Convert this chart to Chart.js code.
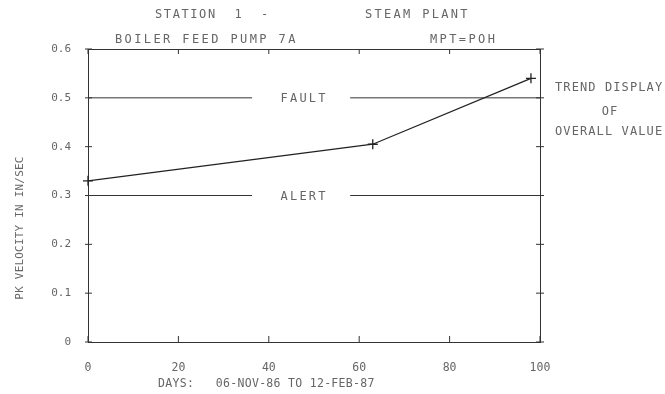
<!DOCTYPE html>
<html>
<head>
<meta charset="utf-8">
<script src="https://cdn.jsdelivr.net/npm/chart.js@4"></script>
<style>
  html, body { margin: 0; padding: 0; background: #fff; }
  #wrap { width: 665px; height: 394px; position: relative; }
</style>
</head>
<body>
<div id="wrap"><canvas id="trend"></canvas></div>
<script>
// values
const days = [0, 63, 98];
const velocity = [0.33, 0.405, 0.54];
const faultLevel = 0.5;
const alertLevel = 0.3;
const labelGap = [36.3, 58];   // where the limit lines break for their labels
const yTicks = [0, 0.1, 0.2, 0.3, 0.4, 0.5, 0.6];
const xTicks = [0, 20, 40, 60, 80, 100];

const ink = "#333";
const penText = "#666";
const mono = "'DejaVu Sans Mono', monospace";

function limitLine(level) {
  return [
    { x: 0, y: level },
    { x: labelGap[0], y: level },
    { x: (labelGap[0] + labelGap[1]) / 2, y: null },
    { x: labelGap[1], y: level },
    { x: 100, y: level },
  ];
}

const annotations = {
  id: "annotations",
  afterDraw(chart) {
    const ctx = chart.ctx;
    const { x, y } = chart.scales;
    ctx.save();
    ctx.strokeStyle = ink;
    ctx.lineWidth = 1;
    // small ticks crossing the axes
    yTicks.forEach(v => {
      const py = y.getPixelForValue(v);
      ctx.beginPath();
      ctx.moveTo(x.left - 3, py); ctx.lineTo(x.left + 4, py);
      ctx.moveTo(x.right - 4, py); ctx.lineTo(x.right + 4, py);
      ctx.stroke();
    });
    xTicks.forEach(v => {
      const px = x.getPixelForValue(v);
      ctx.beginPath();
      ctx.moveTo(px, y.bottom); ctx.lineTo(px, y.bottom - 6);
      ctx.moveTo(px, y.top); ctx.lineTo(px, y.top + 5);
      ctx.stroke();
    });

    const put = (txt, px, py, size, spacing, align) => {
      ctx.font = size + "px " + mono;
      ctx.letterSpacing = spacing + "px";
      ctx.textAlign = align || "left";
      ctx.textBaseline = "middle";
      ctx.fillStyle = penText;
      ctx.fillText(txt, px, py);
    };
    put("STATION  1  -", 155, 15, 12, 1.6);
    put("STEAM PLANT", 365, 15, 12, 2.3);
    put("BOILER FEED PUMP 7A", 115, 40, 12, 2.4);
    put("MPT=POH", 430, 40, 12, 2.4);

    const mid = x.getPixelForValue((labelGap[0] + labelGap[1]) / 2);
    put("FAULT", mid + 3, y.getPixelForValue(faultLevel) + 1, 12, 2.2, "center");
    put("ALERT", mid + 3, y.getPixelForValue(alertLevel) + 1, 12, 2.2, "center");

    put("TREND DISPLAY", 555, 88, 12, 1.1);
    put("OF", 610, 112, 12, 1.1, "center");
    put("OVERALL VALUE", 555, 132, 12, 1.1);

    put("DAYS:   06-NOV-86 TO 12-FEB-87", 158, 384, 11.5, 0.3);

    ctx.translate(20, 228);
    ctx.rotate(-Math.PI / 2);
    put("PK VELOCITY IN IN/SEC", 0, 0, 11, 0.2, "center");
    ctx.restore();
  },
};

new Chart(document.getElementById("trend"), {
  type: "line",
  data: {
    datasets: [
      {
        label: "overall",
        data: days.map((d, i) => ({ x: d, y: velocity[i] })),
        borderColor: "#222",
        borderWidth: 1.3,
        pointStyle: "cross",
        pointRadius: 5,
        pointBorderColor: "#222",
        pointBorderWidth: 1.3,
        tension: 0,
        clip: false,
      },
      {
        label: "fault",
        data: limitLine(faultLevel),
        borderColor: ink,
        borderWidth: 1,
        pointRadius: 0,
        spanGaps: false,
      },
      {
        label: "alert",
        data: limitLine(alertLevel),
        borderColor: ink,
        borderWidth: 1,
        pointRadius: 0,
        spanGaps: false,
      },
    ],
  },
  options: {
    responsive: true,
    maintainAspectRatio: false,
    animation: false,
    layout: { padding: { left: 0, right: 125, top: 49, bottom: 0 } },
    plugins: { legend: { display: false }, tooltip: { enabled: false } },
    scales: {
      x: {
        type: "linear",
        min: 0,
        max: 100,
        afterBuildTicks: s => { s.ticks = xTicks.map(v => ({ value: v })); },
        ticks: { color: penText, padding: 11, font: { family: mono, size: 11.5 } },
        grid: { display: false },
        border: { color: ink, width: 1 },
        afterFit: s => { s.height = 52; },
      },
      x2: {
        type: "linear",
        position: "top",
        min: 0,
        max: 100,
        ticks: { display: false },
        grid: { display: false },
        border: { color: ink, width: 1 },
        afterFit: s => { s.height = 0; },
      },
      y: {
        min: 0,
        max: 0.6,
        afterBuildTicks: s => { s.ticks = yTicks.map(v => ({ value: v })); },
        ticks: {
          color: penText,
          padding: 9,
          font: { family: mono, size: 11 },
          callback: v => (v === 0 ? "0" : v.toFixed(1)),
        },
        grid: { display: false },
        border: { color: ink, width: 1, dash: [3, 2] },
        afterFit: s => { s.width = 88; },
      },
      y2: {
        position: "right",
        min: 0,
        max: 0.6,
        ticks: { display: false },
        grid: { display: false },
        border: { color: ink, width: 1, dash: [5, 3] },
        afterFit: s => { s.width = 0; },
      },
    },
  },
  plugins: [annotations],
});
</script>
</body>
</html>
